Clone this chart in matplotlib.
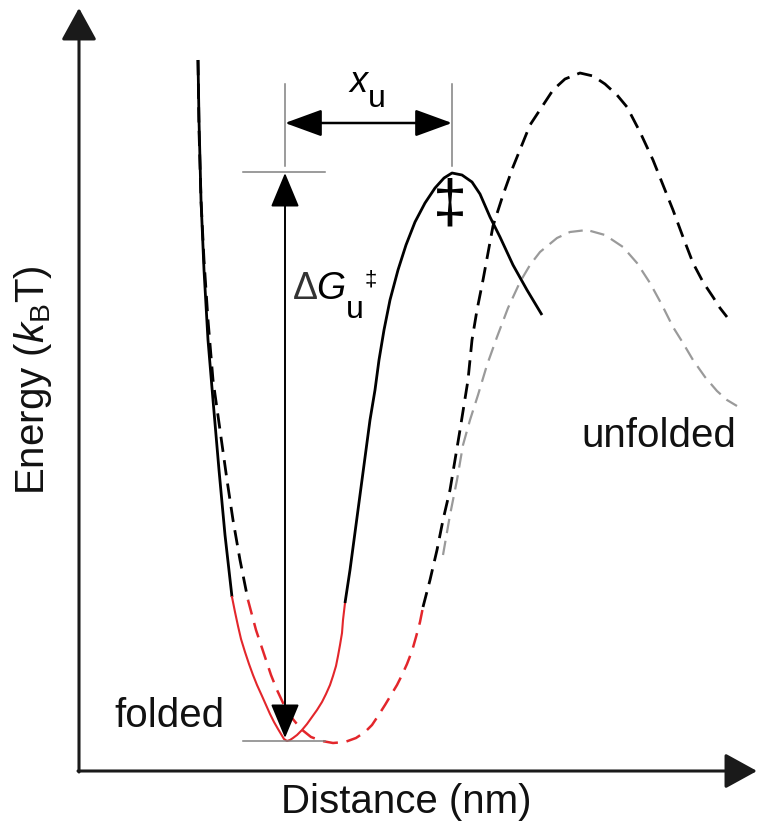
# energy landscape schematic: folded / unfolded wells with barrier

import matplotlib
matplotlib.use("Agg")
import matplotlib.pyplot as plt

plt.rcParams["font.family"] = ["Liberation Sans", "DejaVu Sans"]
plt.rcParams["mathtext.fontset"] = "custom"
plt.rcParams["mathtext.rm"] = "Liberation Sans"
plt.rcParams["mathtext.it"] = "Liberation Sans:italic"

# curves (pixel units, y grows downward)
# solid landscape: wall, red well, barrier
fold_wall_x = [198, 199, 201, 204, 208, 213, 219, 225, 232]
fold_wall_y = [60, 120, 200, 270, 340, 400, 470, 535, 597]
fold_well_x = [232, 235, 238, 241, 245, 249, 253, 257, 262, 266, 270, 274,
               278, 281, 284, 287, 290, 293, 297, 302, 307, 312, 317, 322,
               326, 330, 333, 336, 338, 340, 342, 343, 345]
fold_well_y = [597, 612, 626, 639, 652, 664, 675, 685, 696, 705, 714, 722,
               729, 734, 739, 741, 740, 738, 735, 730, 724, 717, 710, 702,
               694, 685, 676, 666, 656, 645, 633, 620, 603]
fold_barrier_x = [345, 350, 354, 358, 362, 366, 370, 375, 379, 384, 390, 398,
                  406, 415, 425, 435, 444, 452, 462, 472, 480, 490, 500, 513,
                  527, 542]
fold_barrier_y = [603, 570, 540, 510, 480, 450, 420, 390, 360, 330, 300, 270,
                  245, 222, 203, 188, 178, 173, 175, 182, 194, 217, 237, 265,
                  290, 315]

# dashed landscape (tilted): wall, red well, barrier
tilt_wall_x = [198, 199, 201, 204, 208, 213, 220, 227, 233, 240, 248]
tilt_wall_y = [60, 130, 200, 260, 320, 380, 430, 480, 520, 560, 600]
tilt_well_x = [248, 252, 256, 261, 266, 271, 277, 284, 292, 301, 311, 322,
               333, 345, 356, 365, 372, 378, 385, 391, 397, 402, 407, 412,
               416, 420, 423]
tilt_well_y = [600, 615, 630, 645, 660, 675, 690, 705, 718, 729, 737, 741,
               743, 742, 738, 732, 725, 716, 705, 695, 685, 675, 664, 651,
               637, 622, 607]
tilt_barrier_x = [423, 430, 437, 443, 450, 455, 460, 464, 468, 472, 477, 483,
                  493, 503, 513, 530, 553, 565, 580, 593, 605, 617, 627, 640,
                  653, 663, 673, 683, 693, 703, 713, 720, 727]
tilt_barrier_y = [607, 580, 550, 520, 490, 460, 430, 405, 380, 340, 310, 280,
                  226, 195, 167, 125, 90, 79, 73, 76, 84, 95, 107, 132,
                  160, 185, 210, 237, 263, 282, 297, 308, 317]

# grey dashed landscape
grey_x = [443, 450, 457, 463, 470, 478, 487, 497, 508, 520, 530, 540, 557,
          570, 587, 605, 623, 637, 650, 662, 673, 683, 693, 705, 717, 727, 737]
grey_y = [555, 515, 480, 445, 420, 395, 365, 337, 308, 282, 265, 252, 238,
          232, 230, 235, 247, 263, 283, 305, 327, 343, 360, 377, 391, 400, 406]

RED = "#e3262b"
GREY = "#9a9a9a"
FS = 29

fig = plt.figure(figsize=(7.59, 8.23), dpi=100)
ax = fig.add_axes([0, 0, 1, 1])
ax.set_xlim(0, 759)
ax.set_ylim(823, 0)
ax.axis("off")

# curves
ax.plot(grey_x, grey_y, color=GREY, lw=1.6, ls=(0, (6.5, 3.5)))
ax.plot(tilt_wall_x, tilt_wall_y, color="black", lw=2.0, ls=(0, (5.5, 3)))
ax.plot(tilt_well_x, tilt_well_y, color=RED, lw=1.8, ls=(0, (6, 3.5)))
ax.plot(tilt_barrier_x, tilt_barrier_y, color="black", lw=2.0, ls=(0, (5.5, 3)))
ax.plot(fold_wall_x, fold_wall_y, color="black", lw=2.0, solid_capstyle="butt")
ax.plot(fold_well_x, fold_well_y, color=RED, lw=1.5)
ax.plot(fold_barrier_x, fold_barrier_y, color="black", lw=2.0, solid_capstyle="butt")

# axes with arrow heads
axis_kw = dict(arrowstyle="-|>,head_length=1.0,head_width=0.55",
               color="#1a1a1a", lw=2.2, mutation_scale=20,
               shrinkA=0, shrinkB=0)
ax.annotate("", xy=(79, 8), xytext=(79, 772), arrowprops=axis_kw)
ax.annotate("", xy=(757, 771), xytext=(78, 771), arrowprops=axis_kw)

# guide lines
guide = dict(color="#808080", lw=1.1)
ax.plot([243, 325], [172, 172], **guide)
ax.plot([243, 325], [741, 741], **guide)
ax.plot([285, 285], [84, 166], **guide)
ax.plot([452, 452], [84, 166], **guide)

# x_u double arrow
ax.annotate("", xy=(452, 123), xytext=(285, 123),
            arrowprops=dict(arrowstyle="<|-|>,head_length=1.15,head_width=0.42",
                            color="black", lw=1.8, mutation_scale=20,
                            shrinkA=0, shrinkB=0))
# barrier height double arrow
ax.annotate("", xy=(285, 173), xytext=(285, 738),
            arrowprops=dict(arrowstyle="<|-|>,head_length=1.08,head_width=0.45",
                            color="black", lw=1.4, mutation_scale=20,
                            shrinkA=0, shrinkB=0))

# labels
ax.text(359, 92, "x", fontsize=26, fontstyle="italic", ha="center", va="baseline")
ax.text(377, 107, "u", fontsize=23, ha="center", va="baseline")

ax.text(293, 299, "\u0394", fontsize=27, ha="left", va="baseline", color="#333333")
ax.text(316, 299, "G", fontsize=27, fontstyle="italic", ha="left", va="baseline")
ax.text(346, 318, "u", fontsize=23, ha="left", va="baseline")
ax.text(371, 280, "\u2021", fontsize=16, ha="center", va="center")

ax.text(450, 206, "\u2021", fontsize=44, ha="center", va="center")

ax.text(169, 727, "folded", fontsize=FS, ha="center", va="baseline", color="#111111")
ax.text(659, 447, "unfolded", fontsize=FS, ha="center", va="baseline", color="#111111")
ax.text(406, 813, "Distance (nm)", fontsize=FS, ha="center", va="baseline", color="#111111")
ax.text(33, 380, r"Energy ($k_\mathrm{B}$T)", fontsize=FS, rotation=90,
        ha="center", va="center", color="#111111")

fig.savefig("out.png", dpi=100)
